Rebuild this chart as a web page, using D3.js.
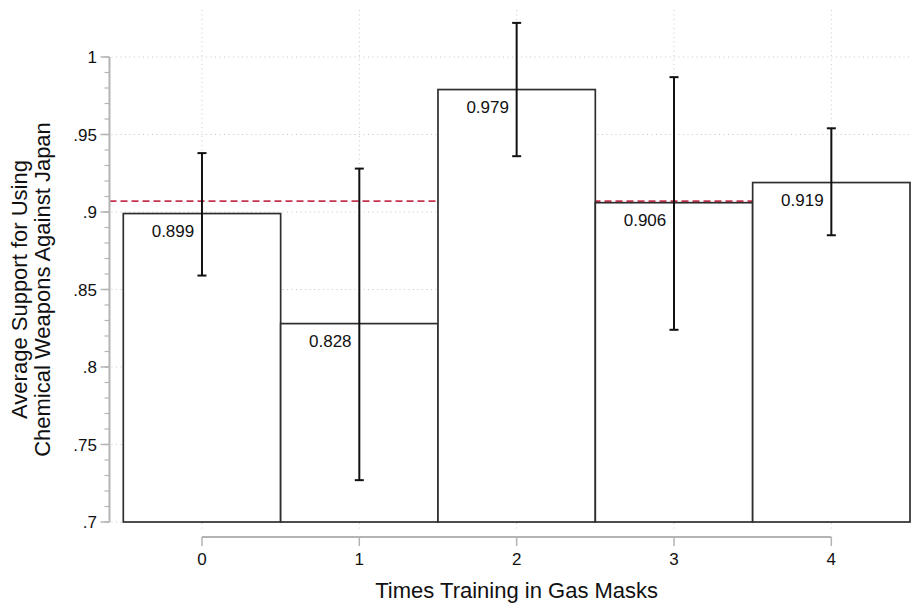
<!DOCTYPE html>
<html>
<head>
<meta charset="utf-8">
<script src="https://cdn.jsdelivr.net/npm/d3@7"></script>
<style>
  html, body { margin: 0; padding: 0; background: #fff; }
  svg { display: block; font-family: "Liberation Sans", Arial, Helvetica, sans-serif; }
</style>
</head>
<body>
<svg id="chart" width="911" height="603"></svg>
<script>
// ---- data ----
const categories = [0, 1, 2, 3, 4];
const means = [0.899, 0.828, 0.979, 0.906, 0.919];
const ciLow = [0.859, 0.727, 0.936, 0.824, 0.885];
const ciHigh = [0.938, 0.928, 1.022, 0.987, 0.954];
const overallMean = 0.907;
const yTickValues = [0.7, 0.75, 0.8, 0.85, 0.9, 0.95, 1];
const yTickLabels = [".7", ".75", ".8", ".85", ".9", ".95", "1"];
const xTitle = "Times Training in Gas Masks";
const yTitleLines = ["Average Support for Using", "Chemical Weapons Against Japan"];

// ---- layout ----
const svg = d3.select("#chart");
const axisX = 109.5;
const x = d3.scaleLinear().domain([-0.5, 4.5]).range([123.3, 910]);
const y = d3.scaleLinear().domain([0.7, 1]).range([522, 57]);
const plotTop = 10, plotBottom = 532, plotRight = 911;
const axisGray = "#b4b4b4";

// grid (dotted)
const grid = svg.append("g");
grid.selectAll("line.h").data(yTickValues).join("line")
  .attr("x1", axisX + 2).attr("x2", plotRight)
  .attr("y1", d => y(d)).attr("y2", d => y(d))
  .attr("stroke", "#c8c8c8").attr("stroke-width", 1)
  .attr("stroke-dasharray", "1,3.5");
grid.selectAll("line.v").data(categories).join("line")
  .attr("x1", d => x(d)).attr("x2", d => x(d))
  .attr("y1", plotTop).attr("y2", plotBottom)
  .attr("stroke", "#c8c8c8").attr("stroke-width", 1)
  .attr("stroke-dasharray", "1,3.5");

// reference line (overall mean)
svg.append("line")
  .attr("x1", axisX).attr("x2", 910)
  .attr("y1", y(overallMean)).attr("y2", y(overallMean))
  .attr("stroke", "#c4334f").attr("stroke-width", 1.8)
  .attr("stroke-dasharray", "7,4");

// bars
svg.append("g").selectAll("rect").data(categories).join("rect")
  .attr("x", (d) => x(d - 0.5))
  .attr("width", (d) => x(d + 0.5) - x(d - 0.5))
  .attr("y", (d, i) => y(means[i]))
  .attr("height", (d, i) => y(0.7) - y(means[i]))
  .attr("fill", "#fff").attr("stroke", "#2e2e2e").attr("stroke-width", 1.7);

// error bars
const eb = svg.append("g").attr("stroke", "#111").attr("stroke-width", 2);
categories.forEach((c, i) => {
  eb.append("line").attr("x1", x(c)).attr("x2", x(c))
    .attr("y1", y(ciLow[i])).attr("y2", y(ciHigh[i]));
  eb.append("line").attr("x1", x(c) - 4.5).attr("x2", x(c) + 4.5)
    .attr("y1", y(ciLow[i])).attr("y2", y(ciLow[i]));
  eb.append("line").attr("x1", x(c) - 4.5).attr("x2", x(c) + 4.5)
    .attr("y1", y(ciHigh[i])).attr("y2", y(ciHigh[i]));
});

// value labels
svg.append("g").selectAll("text").data(categories).join("text")
  .attr("x", d => x(d) - 29)
  .attr("y", (d, i) => y(means[i]) + 23)
  .attr("text-anchor", "middle")
  .attr("font-size", 17).attr("fill", "#111")
  .text((d, i) => d3.format(".3f")(means[i]));

// y axis
const yAxis = svg.append("g");
yAxis.append("line").attr("x1", axisX).attr("x2", axisX)
  .attr("y1", y(1)).attr("y2", y(0.7))
  .attr("stroke", axisGray).attr("stroke-width", 2);
const minorTicks = d3.range(70, 101).map(v => v / 100);
yAxis.selectAll("line.minor").data(minorTicks).join("line")
  .attr("x1", axisX - 5).attr("x2", axisX)
  .attr("y1", d => y(d)).attr("y2", d => y(d))
  .attr("stroke", axisGray).attr("stroke-width", 1.2);
yAxis.selectAll("line.major").data(yTickValues).join("line")
  .attr("x1", axisX - 9).attr("x2", axisX)
  .attr("y1", d => y(d)).attr("y2", d => y(d))
  .attr("stroke", axisGray).attr("stroke-width", 1.5);
yAxis.selectAll("text").data(yTickValues).join("text")
  .attr("x", 97).attr("y", d => y(d) + 6)
  .attr("text-anchor", "end").attr("font-size", 17).attr("fill", "#111")
  .text((d, i) => yTickLabels[i]);

// x axis
const xAxisY = 537;
const xAxis = svg.append("g");
xAxis.append("line").attr("x1", x(0)).attr("x2", x(4))
  .attr("y1", xAxisY).attr("y2", xAxisY)
  .attr("stroke", axisGray).attr("stroke-width", 2);
xAxis.selectAll("line.t").data(categories).join("line")
  .attr("x1", d => x(d)).attr("x2", d => x(d))
  .attr("y1", xAxisY).attr("y2", xAxisY + 9)
  .attr("stroke", axisGray).attr("stroke-width", 1.5);
xAxis.selectAll("text").data(categories).join("text")
  .attr("x", d => x(d)).attr("y", 565)
  .attr("text-anchor", "middle").attr("font-size", 17).attr("fill", "#111")
  .text(d => String(d));

// axis titles
svg.append("text")
  .attr("x", x(2)).attr("y", 598)
  .attr("text-anchor", "middle").attr("font-size", 22).attr("fill", "#111")
  .text(xTitle);
const yMid = (y(1) + y(0.7)) / 2;
yTitleLines.forEach((t, i) => {
  svg.append("text")
    .attr("transform", `translate(${27 + i * 23},${yMid}) rotate(-90)`)
    .attr("text-anchor", "middle").attr("font-size", 22).attr("fill", "#111")
    .text(t);
});
</script>
</body>
</html>
